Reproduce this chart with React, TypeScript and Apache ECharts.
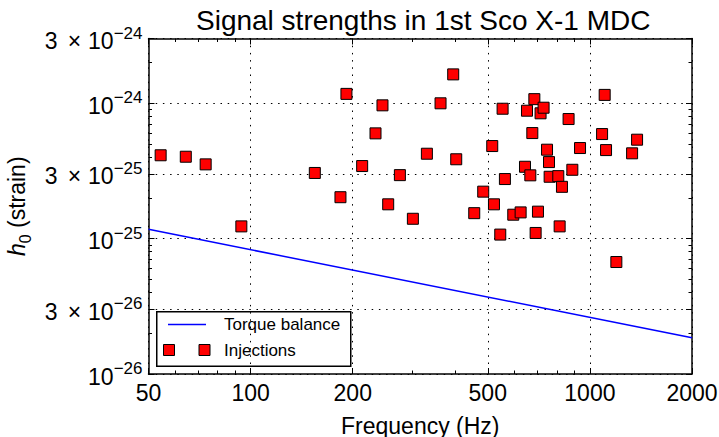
import React, { useEffect, useRef } from 'react';
import * as echarts from 'echarts';

const TITLE = 'Signal strengths in 1st Sco X-1 MDC';
const X_NAME = 'Frequency (Hz)';
const SERIES_LINE = 'Torque balance';
const SERIES_SCATTER = 'Injections';

const xMajorTicks = [50, 100, 200, 500, 1000, 2000];
const xMinorTicks = [60, 70, 80, 90, 300, 400, 600, 700, 800, 900];
const yMajorTicks = [1e-26, 3e-26, 1e-25, 3e-25, 1e-24, 3e-24];
const yMinorTicks = [
  2e-26, 4e-26, 5e-26, 6e-26, 7e-26, 8e-26, 9e-26,
  2e-25, 4e-25, 5e-25, 6e-25, 7e-25, 8e-25, 9e-25,
  2e-24,
];

const torqueFreq = [50, 2000];
const torqueStrain = [1.17e-25, 1.85e-26];

const injFreq = [
  54.3, 64.4, 73.7, 93.9, 154.6, 191.6, 184, 244.7, 233.4, 213.2,
  254.4, 275.4, 300.8, 330.8, 362.9, 395.5, 403.7, 456.2, 484.9, 521.5,
  515.5, 553, 561.8, 544.3, 594.6, 625, 652.6, 686, 715.6, 730.4,
  676.6, 643.8, 667.5, 703, 692, 747.6, 757.8, 761, 807, 827.4,
  865.5, 887.8, 935.4, 814.5, 1105.7, 1086.4, 1116, 1331.9, 1377.6, 1196.8,
];
const injStrain = [
  4.12e-25, 4.02e-25, 3.53e-25, 1.23e-25, 3.05e-25, 1.17e-24, 2.02e-25, 9.63e-25, 5.98e-25, 3.43e-25,
  1.79e-25, 2.94e-25, 1.4e-25, 4.23e-25, 9.97e-25, 1.63e-24, 3.85e-25, 1.54e-25, 2.22e-25, 1.79e-25,
  4.82e-25, 9.09e-25, 2.75e-25, 1.07e-25, 1.5e-25, 1.56e-25, 8.79e-25, 1.07e-24, 8.41e-25, 9.25e-25,
  6.01e-25, 3.39e-25, 2.93e-25, 1.58e-25, 1.1e-25, 4.53e-25, 3.67e-25, 2.86e-25, 2.89e-25, 2.41e-25,
  7.63e-25, 3.22e-25, 4.66e-25, 1.23e-25, 1.15e-24, 5.91e-25, 4.5e-25, 4.26e-25, 5.37e-25, 6.71e-26,
];

// The y axis works in units of 1e-26 strain (ECharts rounds tiny log extents away).
const Y_UNIT = 1e-26;
const toUnit = (v: number) => v / Y_UNIT;

const FONT = "'Liberation Sans', Arial, Helvetica, sans-serif";

function yLabel(u: number): string {
  const v = u * Y_UNIT;
  const e = Math.floor(Math.log10(v) + 1e-6);
  const m = Math.round(v / Math.pow(10, e));
  const sup = '{s|\u2212' + String(-e) + '}';
  if (m === 1) return '{b|10}' + sup;
  return '{b|' + m + '}{m|\u00d7}{b|10}' + sup;
}

export default function App() {
  const ref = useRef<HTMLDivElement>(null);

  useEffect(() => {
    if (!ref.current) return;
    const chart = echarts.init(ref.current, undefined, { renderer: 'svg' });

    const black = '#000';
    const xBase = { type: 'log', logBase: 10, min: 50, max: 2000, gridIndex: 0 };
    const yBase = { type: 'log', logBase: 10, min: toUnit(yMajorTicks[0]), max: toUnit(yMajorTicks[yMajorTicks.length - 1]), gridIndex: 0 };
    const frameLine = { show: true, onZero: false, lineStyle: { color: black, width: 1.5 } };
    const noLine = { show: false, onZero: false };
    const majorTick = (vals: number[]) => ({
      show: true, inside: true, length: 6, customValues: vals,
      lineStyle: { color: black, width: 1 },
    });
    const minorTick = (vals: number[]) => ({
      show: true, inside: true, length: 3.5, customValues: vals,
      lineStyle: { color: black, width: 1 },
    });
    const grid = { show: true, lineStyle: { color: black, width: 1, type: [1.5, 5.7] } };

    const yMajorU = yMajorTicks.map(toUnit);
    const yMinorU = yMinorTicks.map(toUnit);
    const scatterData = injFreq.map((f, i) => [f, toUnit(injStrain[i])]);
    const lineData = torqueFreq.map((f, i) => [f, toUnit(torqueStrain[i])]);

    const option: any = {
      animation: false,
      backgroundColor: '#fff',
      title: {
        text: TITLE,
        left: 191,
        top: 1,
        textStyle: { fontSize: 28, fontWeight: 'normal', color: black, fontFamily: FONT },
      },
      grid: {
        left: 148.5, right: 27, top: 38.5, bottom: 63,
        outerBoundsMode: 'none', containLabel: false,
      },
      xAxis: [
        {
          ...xBase, position: 'bottom',
          axisLine: frameLine,
          axisTick: majorTick(xMajorTicks),
          axisLabel: {
            show: true, customValues: xMajorTicks,
            formatter: (v: number) => String(Math.round(v)),
            fontSize: 23, color: black, fontFamily: FONT, margin: 7,
          },
          splitLine: grid,
          name: X_NAME, nameLocation: 'middle', nameGap: 40,
          nameTextStyle: { fontSize: 23, color: black, fontFamily: FONT },
        },
        {
          ...xBase, position: 'bottom',
          axisLine: noLine, axisTick: minorTick(xMinorTicks),
          axisLabel: { show: false }, splitLine: { show: false },
        },
        {
          ...xBase, position: 'top',
          axisLine: frameLine, axisTick: majorTick(xMajorTicks),
          axisLabel: { show: false }, splitLine: { show: false },
        },
        {
          ...xBase, position: 'top',
          axisLine: noLine, axisTick: minorTick(xMinorTicks),
          axisLabel: { show: false }, splitLine: { show: false },
        },
      ],
      yAxis: [
        {
          ...yBase, position: 'left',
          axisLine: frameLine,
          axisTick: majorTick(yMajorU),
          axisLabel: {
            show: true, customValues: yMajorU,
            formatter: yLabel, margin: 6, color: black,
            rich: {
              b: { fontSize: 23, lineHeight: 23, fontFamily: FONT, color: black, verticalAlign: 'bottom' },
              m: { fontSize: 23, lineHeight: 23, fontFamily: FONT, color: black, verticalAlign: 'bottom', padding: [0, 7, 0, 10] },
              s: { fontSize: 17, fontFamily: FONT, color: black, verticalAlign: 'top', padding: [0, 0, 11, 0] },
            },
          },
          splitLine: grid,
          name: '{i|h}{sub|0}{b| (strain)}',
          nameLocation: 'middle', nameGap: 115, nameRotate: 90,
          nameTextStyle: {
            color: black,
            rich: {
              i: { fontSize: 23, fontFamily: FONT, fontStyle: 'italic', color: black, lineHeight: 23, verticalAlign: 'top' },
              b: { fontSize: 23, fontFamily: FONT, color: black, lineHeight: 23, verticalAlign: 'top' },
              sub: { fontSize: 16, fontFamily: FONT, color: black, verticalAlign: 'bottom', padding: [12, 0, 0, 0] },
            },
          },
        },
        {
          ...yBase, position: 'left',
          axisLine: noLine, axisTick: minorTick(yMinorU),
          axisLabel: { show: false }, splitLine: { show: false },
        },
        {
          ...yBase, position: 'right',
          axisLine: frameLine, axisTick: majorTick(yMajorU),
          axisLabel: { show: false }, splitLine: { show: false },
        },
        {
          ...yBase, position: 'right',
          axisLine: noLine, axisTick: minorTick(yMinorU),
          axisLabel: { show: false }, splitLine: { show: false },
        },
      ],
      series: [
        {
          name: SERIES_LINE, type: 'line', xAxisIndex: 0, yAxisIndex: 0,
          data: lineData, showSymbol: false, symbol: 'none',
          lineStyle: { color: '#0000ff', width: 1.5 }, itemStyle: { color: '#0000ff' }, z: 3,
        },
        {
          name: SERIES_SCATTER, type: 'scatter', xAxisIndex: 0, yAxisIndex: 0,
          data: scatterData, symbol: 'rect', symbolSize: 11,
          itemStyle: { color: '#ff0000', borderColor: black, borderWidth: 1, opacity: 1 }, z: 4,
        },
      ],
      graphic: [
        {
          type: 'group', z: 100,
          children: [
            { type: 'rect', shape: { x: 156.75, y: 311.75, width: 194, height: 54.5 }, style: { fill: '#fff', stroke: black, lineWidth: 1.5 } },
            { type: 'line', shape: { x1: 168, y1: 324.5, x2: 206, y2: 324.5 }, style: { stroke: '#0000ff', lineWidth: 1.5 } },
            { type: 'text', x: 224, y: 324.5, style: { text: SERIES_LINE, fontSize: 17, fontFamily: FONT, fill: black, verticalAlign: 'middle', align: 'left' } },
            { type: 'rect', shape: { x: 163.5, y: 344.5, width: 11, height: 11 }, style: { fill: '#ff0000', stroke: black, lineWidth: 1 } },
            { type: 'rect', shape: { x: 199, y: 344.5, width: 11, height: 11 }, style: { fill: '#ff0000', stroke: black, lineWidth: 1 } },
            { type: 'text', x: 224, y: 350, style: { text: SERIES_SCATTER, fontSize: 17, fontFamily: FONT, fill: black, verticalAlign: 'middle', align: 'left' } },
          ],
        },
      ],
    };

    chart.setOption(option);
    return () => chart.dispose();
  }, []);

  return (
    <div
      ref={ref}
      style={{ position: 'fixed', left: 0, top: 0, width: 719, height: 437, background: '#fff' }}
    />
  );
}
